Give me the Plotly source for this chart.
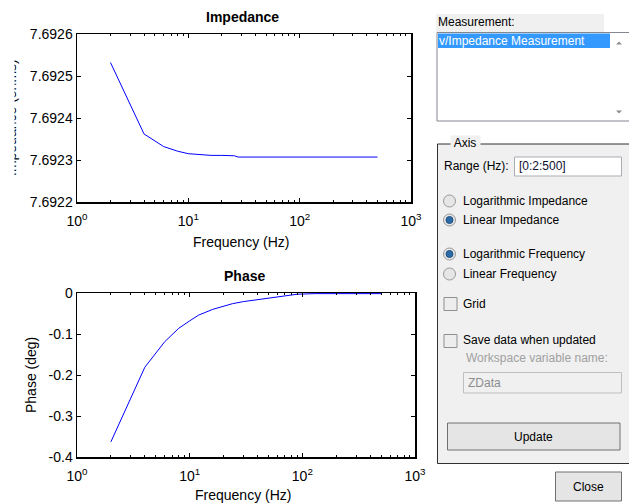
import plotly.graph_objects as go

# ---------------- data ----------------
freq_imp = [2, 4, 6, 8, 10, 12, 16, 20, 26, 28, 500]
impedance = [7.692532, 7.692362, 7.692332, 7.692321, 7.692315, 7.692313,
             7.692311, 7.692311, 7.692310, 7.692307, 7.692307]

freq_phase = [2, 4, 6, 8, 10, 12, 16, 20, 24, 30, 40, 50, 70, 90, 130, 250, 500]
phase = [-0.363, -0.181, -0.119, -0.086, -0.068, -0.054, -0.040, -0.032, -0.026,
         -0.021, -0.016, -0.013, -0.007, -0.003, -0.0015, -0.0015, -0.0015]

x_tickvals = [1, 10, 100, 1000]
x_ticktext = ["10<sup>0</sup>", "10<sup>1</sup>", "10<sup>2</sup>", "10<sup>3</sup>"]
imp_tickvals = [7.6922, 7.6923, 7.6924, 7.6925, 7.6926]
imp_ticktext = ["7.6922", "7.6923", "7.6924", "7.6925", "7.6926"]
ph_tickvals = [-0.4, -0.3, -0.2, -0.1, 0]
ph_ticktext = ["-0.4", "-0.3", "-0.2", "-0.1", "0"]

# ---------------- helpers ----------------
W, H = 629, 504
FONT = "Liberation Sans, Arial, sans-serif"


def X(p):
    return p / W


def Y(p):
    return 1 - p / H


fig = go.Figure()
fig.add_trace(go.Scatter(x=freq_imp, y=impedance, mode="lines",
                         line=dict(color="#0000FF", width=1),
                         xaxis="x", yaxis="y", hoverinfo="skip"))
fig.add_trace(go.Scatter(x=freq_phase, y=phase, mode="lines",
                         line=dict(color="#0000FF", width=1),
                         xaxis="x2", yaxis="y2", hoverinfo="skip"))

minor_vals = [m * 10 ** d for d in range(3) for m in range(2, 10)]

axis_common = dict(showline=True, linecolor="black", linewidth=1.5, mirror="allticks",
                   ticks="inside", ticklen=4, tickcolor="black", showgrid=False,
                   zeroline=False, automargin=False,
                   tickfont=dict(family=FONT, size=14, color="black"))

fig.update_layout(
    template="none",
    width=W, height=H, margin=dict(l=0, r=0, t=0, b=0, pad=0),
    paper_bgcolor="white", plot_bgcolor="white", showlegend=False,
    font=dict(family=FONT, size=14, color="black"),
    xaxis=dict(domain=[X(77), X(411)], anchor="y", type="log", range=[0, 3],
               tickvals=x_tickvals, ticktext=x_ticktext, ticklabelstandoff=6,
               minor=dict(ticks="inside", ticklen=2, tickcolor="black", tickvals=minor_vals),
               **axis_common),
    yaxis=dict(domain=[Y(202), Y(34)], anchor="x", range=[7.6922, 7.6926],
               tickvals=imp_tickvals, ticktext=imp_ticktext, **axis_common),
    xaxis2=dict(domain=[X(77), X(415)], anchor="y2", type="log", range=[0, 3],
                tickvals=x_tickvals, ticktext=x_ticktext, ticklabelstandoff=6,
                minor=dict(ticks="inside", ticklen=2, tickcolor="black", tickvals=minor_vals),
                **axis_common),
    yaxis2=dict(domain=[Y(457), Y(293)], anchor="x2", range=[-0.4, 0],
                tickvals=ph_tickvals, ticktext=ph_ticktext, **axis_common),
)

shapes = []
ann = []


def rect(x0, y0, x1, y1, fill, line="rgba(0,0,0,0)", lw=1):
    shapes.append(dict(type="rect", xref="paper", yref="paper",
                       x0=X(x0), x1=X(x1), y0=Y(y1), y1=Y(y0),
                       fillcolor=fill, line=dict(color=line, width=lw), layer="above"))


def circle(cx, cy, r, fill, line="rgba(0,0,0,0)", lw=1):
    shapes.append(dict(type="circle", xref="paper", yref="paper",
                       x0=X(cx - r), x1=X(cx + r), y0=Y(cy + r), y1=Y(cy - r),
                       fillcolor=fill, line=dict(color=line, width=lw), layer="above"))


def text(x, y, s, size=12, color="black", anchor="left", bold=False, bg=None, angle=0):
    d = dict(xref="paper", yref="paper", x=X(x), y=Y(y), text=("<b>%s</b>" % s) if bold else s,
             showarrow=False, xanchor=anchor, yanchor="middle", textangle=angle,
             font=dict(family=FONT, size=size, color=color), borderpad=0)
    if bg:
        d["bgcolor"] = bg
    ann.append(d)


# ---- plot titles / labels ----
text(242, 17, "Impedance", size=14, anchor="center", bold=True)
text(244, 276, "Phase", size=14, anchor="center", bold=True)
text(241, 242, "Frequency (Hz)", size=14, anchor="center")
text(243, 495, "Frequency (Hz)", size=14, anchor="center")
text(31, 375, "Phase (deg)", size=14, anchor="center", angle=-90)
text(11, 118, "Impedance (ohms)", size=14, anchor="center", angle=-90)
# clipped part of the impedance label
ann.append(dict(xref="paper", yref="paper", x=0, y=Y(118), xanchor="left", yanchor="middle",
                text=" ", showarrow=False, width=12.5, height=150, bgcolor="white", borderpad=0))

# ---- Measurement list ----
rect(436, 14, 604, 32, "#F0F0F0")
text(437, 22, "Measurement:")
rect(437, 32.5, 645, 121, "white", "#828790", 1)
rect(438, 33.5, 610, 48, "#3399FF")
text(438, 41, "v/Impedance Measurement", color="white")
shapes.append(dict(type="path", xref="paper", yref="paper", layer="above",
                   path="M %f %f L %f %f L %f %f Z" % (X(616), Y(44.5), X(622), Y(44.5), X(619), Y(41.5)),
                   fillcolor="#8c8c8c", line=dict(width=0)))
shapes.append(dict(type="path", xref="paper", yref="paper", layer="above",
                   path="M %f %f L %f %f L %f %f Z" % (X(616), Y(110.5), X(622), Y(110.5), X(619), Y(113.5)),
                   fillcolor="#8c8c8c", line=dict(width=0)))

# ---- Axis panel ----
rect(437.5, 144, 645, 463.5, "#F0F0F0", "#303030", 1)
text(450, 143, " Axis ", bg="#F0F0F0")
text(443, 166, "Range (Hz):")
rect(514.5, 157, 621.5, 176, "white", "#ABADB3", 1)
text(518, 166.5, "[0:2:500]", color="#101030")

radios = [(201, "Logarithmic Impedance", False), (220, "Linear Impedance", True),
          (254, "Logarithmic Frequency", True), (274, "Linear Frequency", False)]
for cy, label, sel in radios:
    circle(449.5, cy, 6, "#E6E6E6", "#9A9A9A", 1)
    if sel:
        circle(449.5, cy, 3.5, "#2B6BA8", "#1E4F80", 1)
    text(462, cy, label)

rect(444, 297.5, 457, 310.5, "#EDEDED", "#8E8F8F", 1)
text(462, 304, "Grid")
rect(444, 334.5, 457, 347.5, "#EDEDED", "#8E8F8F", 1)
text(462, 340, "Save data when updated")
text(465, 357.5, "Workspace variable name:", color="#A0A0A0")
rect(463.5, 372.5, 621.5, 393, "#F0F0F0", "#BFBFBF", 1)
text(467, 383, "ZData", color="#8C8C8C")

rect(447.5, 423, 620, 450, "#E5E5E5", "#707070", 1)
text(533.5, 436.5, "Update", anchor="center")
rect(555.5, 472, 621.5, 501, "#E5E5E5", "#707070", 1)
text(588.5, 487, "Close", anchor="center")

fig.update_layout(shapes=shapes, annotations=ann)
fig.write_html("out.html", config={"displayModeBar": False, "staticPlot": True},
               post_script="document.body.style.margin='0px';")
